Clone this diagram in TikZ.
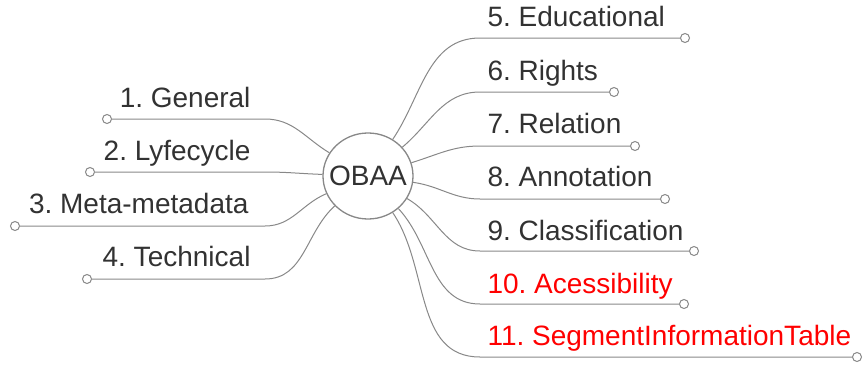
\documentclass[tikz,border=0pt]{standalone}
\usepackage{fontspec}
\setmainfont{Liberation Sans}
\usetikzlibrary{shapes.geometric}
\definecolor{wire}{RGB}{136,136,136}
\definecolor{ink}{RGB}{50,50,50}
\frenchspacing
\begin{document}
\begin{tikzpicture}[x=1pt,y=1pt,line width=1pt,draw=wire,
                hub node/.style={ellipse,draw=wire,line width=1.3pt,minimum width=90pt,minimum height=86pt,inner sep=0pt},
                leaf node/.style={inner sep=0pt,text=ink,font=\fontsize{28}{32}\selectfont},
                red node/.style={leaf node,text=red},
                knob/.style={circle,draw=wire,fill=white,line width=1pt,minimum size=9pt,inner sep=0pt}]

    \useasboundingbox (0,0) rectangle (864,-364);

    \node[hub node] (obaa) at (368,-176) {};
    \node[leaf node] (obaa text) at (obaa) {OBAA};

    % left side
    \coordinate (b1) at (265,-119);
    \coordinate (b2) at (265,-172);
    \coordinate (b3) at (265,-226);
    \coordinate (b4) at (265,-279);
    \node[knob] (k1) at (107,-119) {};
    \node[knob] (k2) at (90,-172) {};
    \node[knob] (k3) at (15,-226) {};
    \node[knob] (k4) at (87,-279) {};
    \node[leaf node,anchor=base east] (l1) at (251,-107) {1. General};
    \node[leaf node,anchor=base east] (l2) at (251,-160) {2. Lyfecycle};
    \node[leaf node,anchor=base east] (l3) at (249,-213) {3. Meta-metadata};
    \node[leaf node,anchor=base east] (l4) at (251,-266) {4. Technical};

    % right side
    \coordinate (b5) at (480,-38);
    \coordinate (b6) at (480,-92);
    \coordinate (b7) at (480,-146);
    \coordinate (b8) at (480,-199);
    \coordinate (b9) at (480,-251);
    \coordinate (b10) at (480,-304);
    \coordinate (b11) at (480,-357);
    \node[knob] (k5) at (685,-38) {};
    \node[knob] (k6) at (614,-92) {};
    \node[knob] (k7) at (635,-146) {};
    \node[knob] (k8) at (665,-199) {};
    \node[knob] (k9) at (694,-251) {};
    \node[knob] (k10) at (684,-304) {};
    \node[knob] (k11) at (857,-357) {};
    \node[leaf node,anchor=base west] (l5) at (487,-26) {5. Educational};
    \node[leaf node,anchor=base west] (l6) at (487,-80) {6. Rights};
    \node[leaf node,anchor=base west] (l7) at (487,-133) {7. Relation};
    \node[leaf node,anchor=base west] (l8) at (487,-186) {8. Annotation};
    \node[leaf node,anchor=base west] (l9) at (487,-240) {9. Classification};
    \node[red node,anchor=base west] (l10) at (487,-293) {10. Acessibility};
    \node[red node,anchor=base west] (l11) at (487,-345) {11. SegmentInformationTable};

    \draw (obaa.149) to[out=149,in=0] (b1) -- (k1);
    \draw (obaa.178) to[out=178,in=0] (b2) -- (k2);
    \draw (obaa.203) to[out=203,in=0] (b3) -- (k3);
    \draw (obaa.222) to[out=222,in=0] (b4) -- (k4);
    \draw (obaa.56) to[out=56,in=180] (b5) -- (k5);
    \draw (obaa.40) to[out=40,in=180] (b6) -- (k6);
    \draw (obaa.17) to[out=17,in=180] (b7) -- (k7);
    \draw (obaa.-8) to[out=-8,in=180] (b8) -- (k8);
    \draw (obaa.-30) to[out=-30,in=180] (b9) -- (k9);
    \draw (obaa.-47) to[out=-47,in=180] (b10) -- (k10);
    \draw (obaa.-56) to[out=-56,in=180] (b11) -- (k11);

\end{tikzpicture}
\end{document}
